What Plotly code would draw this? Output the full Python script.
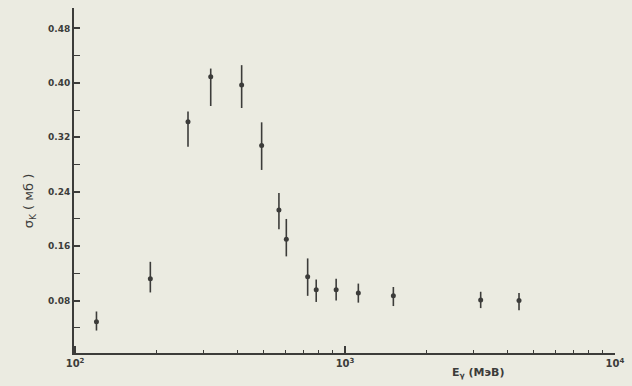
import plotly.graph_objects as go

# Photon energy (MeV) and cross-section (mb)
energy = [120, 190, 262, 318, 414, 491, 569, 606, 727, 782, 927, 1120, 1510, 3180, 4410]
sigma = [0.049, 0.112, 0.343, 0.409, 0.397, 0.308, 0.213, 0.170, 0.115, 0.096, 0.096, 0.091, 0.087, 0.081, 0.080]
err_plus = [0.015, 0.025, 0.015, 0.012, 0.029, 0.034, 0.025, 0.030, 0.027, 0.015, 0.016, 0.014, 0.013, 0.012, 0.011]
err_minus = [0.013, 0.020, 0.037, 0.043, 0.034, 0.036, 0.028, 0.025, 0.028, 0.018, 0.016, 0.014, 0.015, 0.012, 0.014]

y_ticks = [0.08, 0.16, 0.24, 0.32, 0.40, 0.48]
y_ticklabels = ["0.08", "0.16", "0.24", "0.32", "0.40", "0.48"]
y_minor = [0.04, 0.12, 0.20, 0.28, 0.36, 0.44]
x_ticks = [100, 1000, 10000]
x_ticklabels = ["10<sup>2</sup>", "10<sup>3</sup>", "10<sup>4</sup>"]
x_minor = [200, 300, 400, 500, 600, 700, 800, 900,
           2000, 3000, 4000, 5000, 6000, 7000, 8000, 9000]

ink = "#3c3c3a"
paper = "#ebebe1"

fig = go.Figure()
fig.add_trace(go.Scatter(
    x=energy, y=sigma, mode="markers",
    marker=dict(size=5, color=ink),
    error_y=dict(type="data", symmetric=False, array=err_plus, arrayminus=err_minus,
                 color=ink, thickness=1.6, width=0),
    showlegend=False,
))

fig.update_layout(
    width=632, height=386,
    margin=dict(l=74, r=17, t=8, b=33),
    paper_bgcolor=paper, plot_bgcolor=paper,
    font=dict(family="DejaVu Sans", color=ink, size=9),
    xaxis=dict(
        type="log", range=[1.996, 4.0],
        showgrid=False, zeroline=False,
        showline=True, linecolor=ink, linewidth=2,
        tickmode="array", tickvals=x_ticks, ticktext=x_ticklabels,
        ticks="inside", ticklen=7, tickwidth=1.5, tickcolor=ink,
        tickfont=dict(size=10, color=ink, family="DejaVu Sans", weight="bold"),
        minor=dict(tickmode="array", tickvals=x_minor, ticks="inside",
                   ticklen=3, tickwidth=1.2, tickcolor=ink, showgrid=False),
    ),
    yaxis=dict(
        range=[0.003, 0.510],
        showgrid=False, zeroline=False,
        showline=True, linecolor=ink, linewidth=2,
        tickmode="array", tickvals=y_ticks, ticktext=y_ticklabels,
        ticks="inside", ticklen=6, tickwidth=1.5, tickcolor=ink,
        tickfont=dict(size=9, color=ink, family="DejaVu Sans", weight="bold"),
        minor=dict(tickmode="array", tickvals=y_minor, ticks="inside",
                   ticklen=6, tickwidth=1.2, tickcolor=ink, showgrid=False),
    ),
    annotations=[
        dict(text="E<sub>γ</sub> (МэВ)", xref="paper", yref="paper",
             x=0.747, y=-0.058, showarrow=False, xanchor="center", yanchor="middle",
             font=dict(size=11, color=ink, family="DejaVu Sans", weight="bold")),
        dict(text="σ<sub>K</sub> ( мб )", xref="paper", yref="paper",
             x=-0.083, y=0.44, showarrow=False, textangle=-90,
             xanchor="center", yanchor="middle",
             font=dict(size=13, color=ink, family="DejaVu Sans")),
    ],
)

fig.write_html("out.html", config={"displayModeBar": False},
               post_script="document.body.style.margin='0';")
